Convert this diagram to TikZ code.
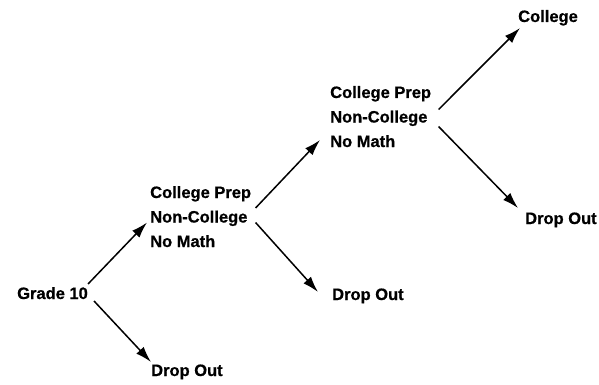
\documentclass[tikz,border=0pt]{standalone}
\usepackage{fontspec}
\setmainfont{Liberation Sans}[BoldFeatures={FakeBold=0.6}]
\usetikzlibrary{arrows.meta}

\begin{document}
\begin{tikzpicture}[x=1pt,y=-1pt,
    lbl/.style={anchor=base west,inner sep=0pt,font=\fontsize{16.5}{18}\selectfont\bfseries},
    branch/.style={-{Latex[length=16pt,width=10pt]},line width=1.5pt}]
    \useasboundingbox[fill=white] (0,0) rectangle (599,385);
    % stage 0
    \node[lbl] (g10) at (17,299) {Grade 10};
    \node[lbl] (d1) at (151,376) {Drop Out};
    % stage 1
    \node[lbl] (s1prep) at (150,198) {College Prep};
    \node[lbl] (s1non) at (150,222.5) {Non-College};
    \node[lbl] (s1no) at (150,247) {No Math};
    \node[lbl] (d2) at (332,300) {Drop Out};
    % stage 2
    \node[lbl] (s2prep) at (330,98) {College Prep};
    \node[lbl] (s2non) at (330,122.5) {Non-College};
    \node[lbl] (s2no) at (330,147) {No Math};
    \node[lbl] (coll) at (518,22) {College};
    \node[lbl] (d3) at (525,224) {Drop Out};
    % branches
    \draw[branch] ([shift={(0,-15)}]g10.base east) -- ([shift={(-3,0)}]s1non.base west);
    \draw[branch] ([shift={(6,2)}]g10.base east) -- ([shift={(0,-14)}]d1.base west);
    \draw[branch] ([shift={(8,-14.5)}]s1non.base east) -- ([shift={(-10,-7)}]s2no.base west);
    \draw[branch] ([shift={(8,0)}]s1non.base east) -- ([shift={(-14,-8)}]d2.base west);
    \draw[branch] ([shift={(11,-13)}]s2non.base east) -- ([shift={(2,6)}]coll.base west);
    \draw[branch] ([shift={(11,4)}]s2non.base east) -- ([shift={(-7,-16)}]d3.base west);
\end{tikzpicture}
\end{document}
